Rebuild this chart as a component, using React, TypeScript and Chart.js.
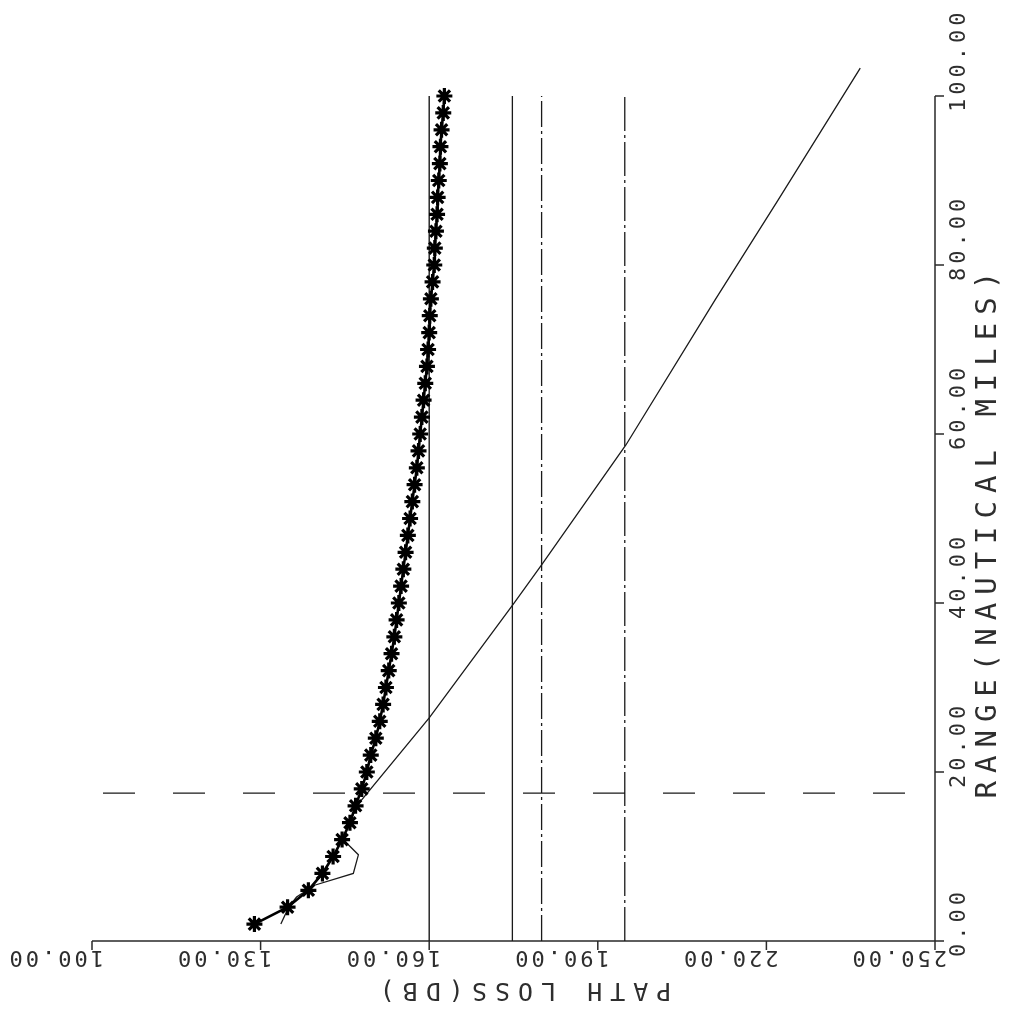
import React, { useEffect, useRef } from 'react';
import { Chart, registerables } from 'chart.js';

Chart.register(...registerables);

// Starred curve: range (nautical miles) and path loss (dB)
const starRange = [2, 4, 6, 8, 10, 12, 14, 16, 18, 20, 22, 24, 26, 28, 30, 32, 34, 36, 38, 40, 42, 44, 46, 48, 50, 52, 54, 56, 58, 60, 62, 64, 66, 68, 70, 72, 74, 76, 78, 80, 82, 84, 86, 88, 90, 92, 94, 96, 98, 100];
const starLoss = [128.9, 134.8, 138.5, 141.0, 142.9, 144.5, 145.9, 146.9, 148.0, 148.9, 149.6, 150.5, 151.2, 151.8, 152.3, 152.8, 153.3, 153.8, 154.2, 154.6, 155.0, 155.4, 155.8, 156.2, 156.6, 157.0, 157.4, 157.8, 158.1, 158.4, 158.7, 159.0, 159.3, 159.6, 159.8, 160.0, 160.1, 160.3, 160.6, 160.9, 161.0, 161.2, 161.4, 161.5, 161.7, 161.9, 162.0, 162.2, 162.5, 162.7];

// Thin solid curve
const lineRange = [2.0, 4.0, 5.2, 6.6, 8.0, 10.2, 11.6, 12.1, 14.0, 15.9, 26.4, 39.9, 44.5, 58.7, 75.9, 87.7, 103.3];
const lineLoss = [133.6, 135.0, 136.4, 139.6, 146.5, 147.4, 145.3, 144.6, 145.9, 147.0, 160.0, 175.0, 180.0, 195.0, 210.9, 222.1, 236.7];

// Constant path-loss reference lines
const verticalLoss = [160, 174.8, 180, 194.8];
const verticalSpan = [0, 100];

// Constant range reference line (dashed)
const dashedRange = 17.5;
const dashedSpan = [100, 250];

// Axes
const lossTicks = [100, 130, 160, 190, 220, 250];
const lossTickLabels = ['100.00', '130.00', '160.00', '190.00', '220.00', '250.00'];
const rangeTicks = [0, 20, 40, 60, 80, 100];
const rangeTickLabels = ['0.00', '20.00', '40.00', '60.00', '80.00', '100.00'];
const lossTitle = 'PATH LOSS(DB)';
const rangeTitle = 'RANGE(NAUTICAL MILES)';

const INK = '#1a1a1a';
const TEXT = '#2e2e2e';
const MONO = '"DejaVu Sans Mono", "Liberation Mono", monospace';

const plotterAxes = {
  id: 'plotterAxes',
  beforeDatasetsDraw(chart: any) {
    const { ctx } = chart;
    const xs = chart.scales.x;
    const ys = chart.scales.y;
    const y0 = ys.getPixelForValue(rangeTicks[0]);
    const xr = xs.getPixelForValue(lossTicks[lossTicks.length - 1]);
    ctx.save();
    ctx.strokeStyle = '#2a2a2a';
    ctx.lineWidth = 1.5;
    ctx.beginPath();
    ctx.moveTo(xs.getPixelForValue(lossTicks[0]), y0);
    ctx.lineTo(xr, y0);
    lossTicks.forEach((v) => {
      const px = xs.getPixelForValue(v);
      ctx.moveTo(px, y0);
      ctx.lineTo(px, y0 + 9);
    });
    ctx.stroke();
    ctx.beginPath();
    ctx.moveTo(xr, y0);
    ctx.lineTo(xr, ys.getPixelForValue(rangeTicks[rangeTicks.length - 1]));
    rangeTicks.forEach((v) => {
      const py = ys.getPixelForValue(v);
      ctx.moveTo(xr, py);
      ctx.lineTo(xr + 9, py);
    });
    ctx.stroke();
    ctx.restore();
  },
  afterDraw(chart: any) {
    const { ctx } = chart;
    const xs = chart.scales.x;
    const ys = chart.scales.y;
    const y0 = ys.getPixelForValue(rangeTicks[0]);
    const xr = xs.getPixelForValue(lossTicks[lossTicks.length - 1]);
    ctx.save();
    ctx.fillStyle = TEXT;
    ctx.textBaseline = 'middle';

    // path loss tick labels (upside down)
    ctx.font = `22px ${MONO}`;
    (ctx as any).letterSpacing = '3px';
    lossTicks.forEach((v, i) => {
      const px = xs.getPixelForValue(v);
      ctx.save();
      ctx.translate(px + 12, y0 + 16);
      ctx.rotate(Math.PI);
      ctx.textAlign = 'left';
      ctx.fillText(lossTickLabels[i], 0, 0);
      ctx.restore();
    });

    // range tick labels (reading upward)
    (ctx as any).letterSpacing = '4px';
    rangeTicks.forEach((v, i) => {
      const py = ys.getPixelForValue(v);
      ctx.save();
      ctx.translate(xr + 24, py + 16);
      ctx.rotate(-Math.PI / 2);
      ctx.textAlign = 'left';
      ctx.fillText(rangeTickLabels[i], 0, 0);
      ctx.restore();
    });

    // path loss title (upside down)
    ctx.font = `25px ${MONO}`;
    (ctx as any).letterSpacing = '8px';
    ctx.save();
    ctx.translate((xs.getPixelForValue(160) + xs.getPixelForValue(190)) / 2 + 8, y0 + 48);
    ctx.rotate(Math.PI);
    ctx.textAlign = 'center';
    ctx.fillText(lossTitle, 0, 0);
    ctx.restore();

    // range title (reading upward)
    ctx.font = `29px ${MONO}`;
    (ctx as any).letterSpacing = '8px';
    ctx.save();
    ctx.translate(xr + 53, ys.getPixelForValue(48.5));
    ctx.rotate(-Math.PI / 2);
    ctx.textAlign = 'center';
    ctx.fillText(rangeTitle, 0, 0);
    ctx.restore();

    ctx.restore();
  },
};

export default function App() {
  const canvasRef = useRef<HTMLCanvasElement | null>(null);

  useEffect(() => {
    if (!canvasRef.current) return;
    const verticalStyles = [
      { dash: [] as number[], width: 1.4 },
      { dash: [] as number[], width: 1.3 },
      { dash: [26, 4, 3, 4], width: 1.3 },
      { dash: [34, 4, 3, 4], width: 1.3 },
    ];
    const datasets: any[] = [
      {
        label: 'stars',
        data: starRange.map((r, i) => ({ x: starLoss[i], y: r })),
        showLine: true,
        borderColor: '#000',
        borderWidth: 2.6,
        pointStyle: 'star',
        pointRadius: 8,
        pointBorderWidth: 3.2,
        pointBorderColor: '#000',
        pointBackgroundColor: '#000',
        clip: false,
        order: 1,
      },
      {
        label: 'curve',
        data: lineRange.map((r, i) => ({ x: lineLoss[i], y: r })),
        showLine: true,
        borderColor: INK,
        borderWidth: 1.3,
        pointRadius: 0,
        clip: false,
        order: 2,
      },
      ...verticalLoss.map((v, i) => ({
        label: `v${v}`,
        data: verticalSpan.map((r) => ({ x: v, y: r })),
        showLine: true,
        borderColor: INK,
        borderWidth: verticalStyles[i].width,
        borderDash: verticalStyles[i].dash,
        pointRadius: 0,
        clip: false,
        order: 3,
      })),
      {
        label: 'dashed',
        data: dashedSpan.map((l) => ({ x: l, y: dashedRange })),
        showLine: true,
        borderColor: INK,
        borderWidth: 1.4,
        borderDash: [32, 38],
        borderDashOffset: -11,
        pointRadius: 0,
        clip: false,
        order: 3,
      },
    ];

    const chart = new Chart(canvasRef.current, {
      type: 'scatter',
      data: { datasets },
      options: {
        animation: false,
        responsive: false,
        devicePixelRatio: 1,
        layout: { padding: { left: 92, right: 74, top: 96, bottom: 69 } },
        plugins: {
          legend: { display: false },
          tooltip: { enabled: false },
        },
        scales: {
          x: { type: 'linear', min: 100, max: 250, display: false },
          y: { type: 'linear', min: 0, max: 100, display: false },
        },
      },
      plugins: [plotterAxes],
    });
    return () => chart.destroy();
  }, []);

  return (
    <div style={{ position: 'absolute', left: 0, top: 0, width: 1009, height: 1010, background: '#fff' }}>
      <canvas ref={canvasRef} width={1009} height={1010} style={{ display: 'block' }} />
    </div>
  );
}
